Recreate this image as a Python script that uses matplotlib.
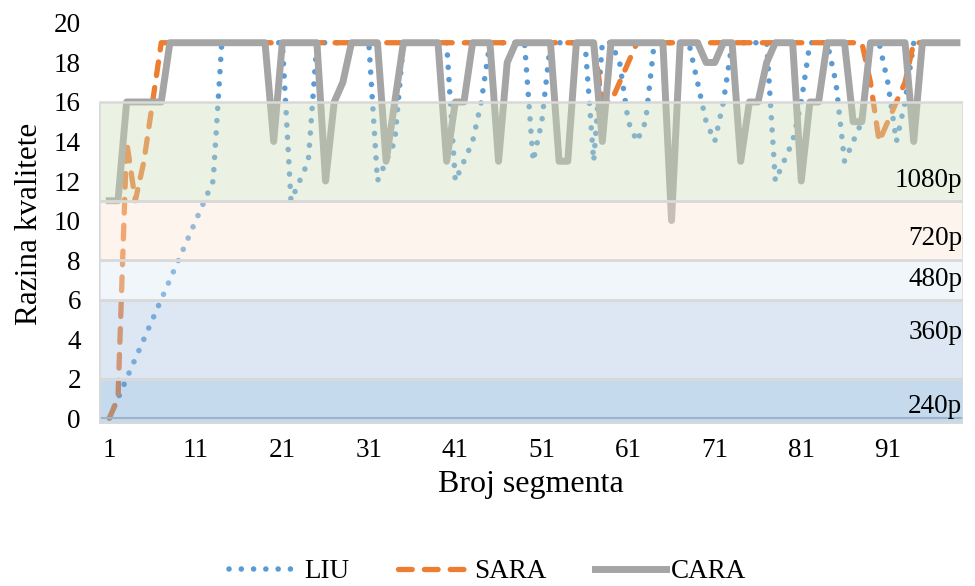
import matplotlib
matplotlib.use("Agg")
import matplotlib.pyplot as plt

plt.rcParams["font.family"] = ["Liberation Serif", "DejaVu Serif"]

# segment numbers and quality level chosen by each algorithm
segments = list(range(1, 100))

liu = [
    0, 1, 2, 3, 4, 5, 6, 7, 8, 9,
    10, 11, 12, 19, 19, 19, 19, 19, 19, 19,
    19, 11, 12, 13, 19, 19, 19, 19, 19, 19,
    19, 12, 13, 14, 19, 19, 19, 19, 19, 19,
    12, 13, 14, 16, 19, 19, 19, 19, 19, 13,
    15, 19, 19, 19, 19, 19, 13, 19, 19, 18,
    15, 14, 15, 19, 19, 19, 19, 19, 17, 15,
    14, 16, 19, 19, 19, 19, 19, 12, 13, 14,
    16, 19, 19, 19, 17, 13, 14, 15, 19, 19,
    17, 14, 16, 19, 19, 19, 19, 19, 19,
]

sara = [
    0, 1, 14, 11, 13, 16, 19, 19, 19, 19,
    19, 19, 19, 19, 19, 19, 19, 19, 19, 19,
    19, 19, 19, 19, 19, 19, 19, 19, 19, 19,
    19, 19, 19, 19, 19, 19, 19, 19, 19, 19,
    19, 19, 19, 19, 19, 19, 19, 19, 19, 19,
    19, 19, 19, 19, 19, 19, 19, 16, 16, 17,
    18, 19, 19, 19, 19, 19, 19, 19, 19, 19,
    19, 19, 19, 19, 19, 19, 19, 19, 19, 19,
    19, 19, 19, 19, 19, 19, 19, 19, 17, 14,
    15, 16, 17, 19, 19, 19, 19, 19, 19,
]

cara = [
    11, 11, 16, 16, 16, 16, 16, 19, 19, 19,
    19, 19, 19, 19, 19, 19, 19, 19, 19, 14,
    19, 19, 19, 19, 19, 12, 16, 17, 19, 19,
    19, 19, 13, 16, 19, 19, 19, 19, 19, 13,
    16, 16, 19, 19, 19, 13, 18, 19, 19, 19,
    19, 19, 13, 13, 19, 19, 19, 14, 19, 19,
    19, 19, 19, 19, 19, 10, 19, 19, 19, 18,
    18, 19, 19, 13, 16, 16, 18, 19, 19, 19,
    12, 16, 16, 19, 19, 19, 15, 15, 19, 19,
    19, 19, 19, 14, 19, 19, 19, 19, 19,
]

# resolution bands
band_edges = [0, 2, 6, 8, 11, 16]
band_names = ["240p", "360p", "480p", "720p", "1080p"]
band_label_y = [0.6, 4.35, 7.0, 9.1, 12.05]

x_ticks = list(range(1, 100, 10))
y_ticks = list(range(0, 21, 2))

band_colors = ["#70A3D466", "#A8C3E166", "#DCE9F566", "#FAE4D466", "#CDDCB966"]

fig = plt.figure(figsize=(9.75, 5.86), dpi=100)
ax = fig.add_axes([0.1015, 0.2765, 0.8862, 0.6843])

ax.plot(segments, liu, color="#5B9BD5", lw=4,
        linestyle=(0, (0.01, 2.2)), dash_capstyle="round", label="LIU")
ax.plot(segments, sara, color="#ED7D31", lw=3.8,
        linestyle=(0, (2.6, 2.3)), dash_capstyle="round", label="SARA")
ax.plot(segments, cara, color="#A5A5A5", lw=5, solid_joinstyle="round",
        label="CARA")

ax.axhline(0, color="#BFBFBF", lw=1.5, zorder=2.5)

# translucent bands sit on top of the lines
for i in range(len(band_names)):
    lo = band_edges[i] if i > 0 else -0.25
    ax.axhspan(lo, band_edges[i + 1], facecolor=band_colors[i],
               edgecolor="#D9D9D9", lw=1.8, zorder=3)
    ax.text(0.999, band_label_y[i], band_names[i], ha="right", va="center",
            fontsize=19.5, transform=ax.get_yaxis_transform(), zorder=4)

ax.set_xlim(-0.2, 99.7)
ax.set_ylim(-0.3, 20)
ax.set_xticks(x_ticks)
ax.set_yticks(y_ticks)
ax.tick_params(axis="both", length=0, labelsize=19.5)
ax.tick_params(axis="y", pad=13)
ax.tick_params(axis="x", pad=10)
for s in ax.spines.values():
    s.set_visible(False)

ax.set_xlabel("Broj segmenta", fontsize=23, labelpad=5)
ax.set_ylabel("Razina kvalitete", fontsize=22.5, labelpad=7)

fig.legend(loc="center", bbox_to_anchor=(0.5, 0.024), ncol=3, frameon=False,
           fontsize=19.5, handlelength=2.6, handletextpad=0.2, columnspacing=1.8)

fig.savefig("out.png", dpi=100)
